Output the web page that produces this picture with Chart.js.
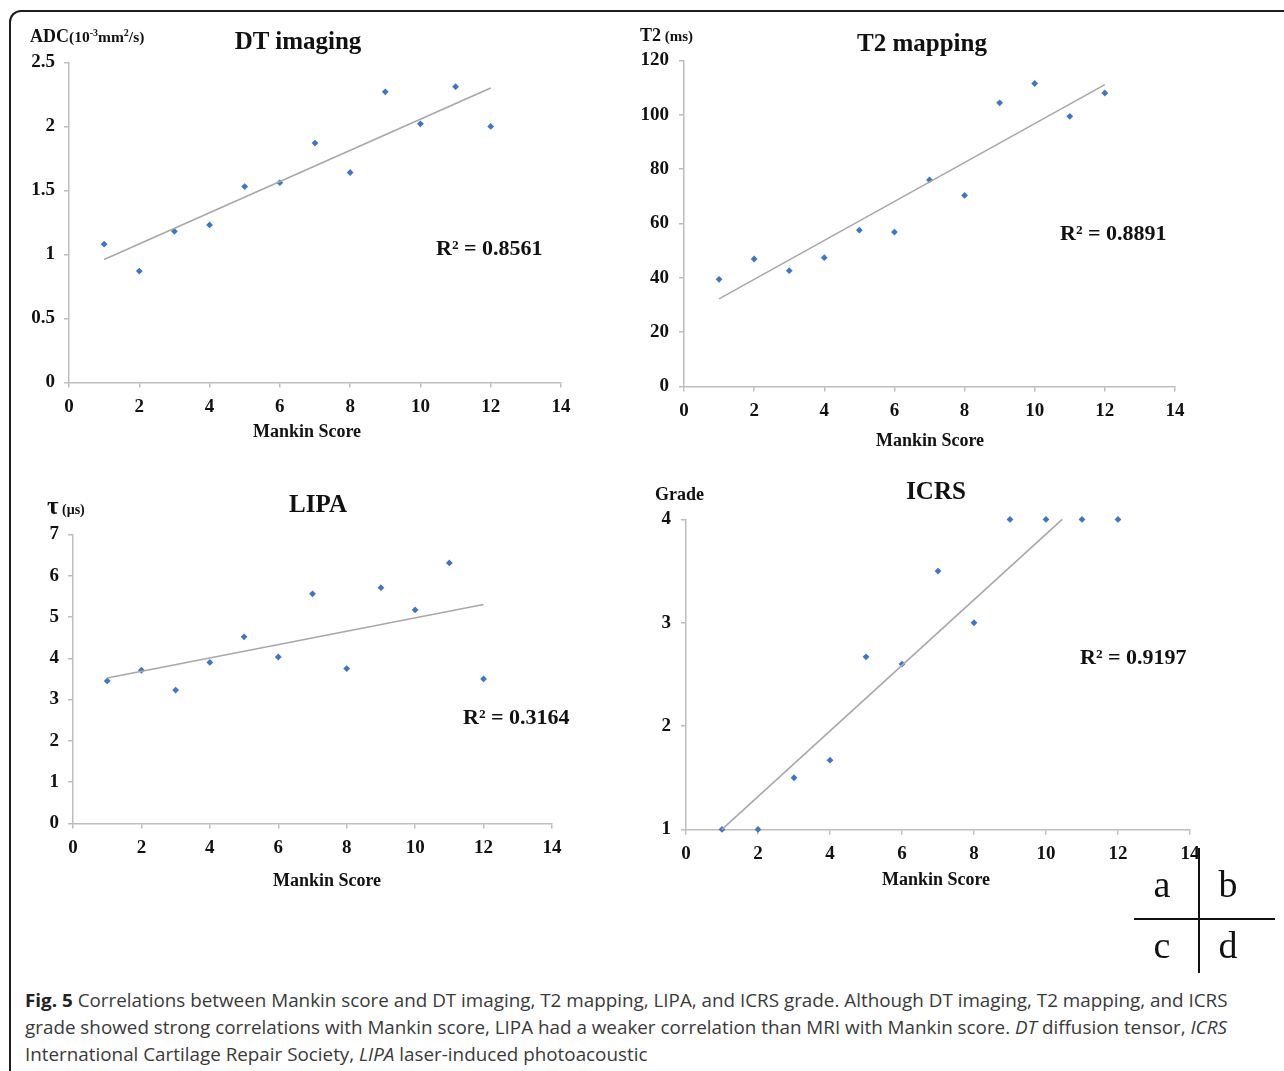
<!DOCTYPE html>
<html>
<head>
<meta charset="utf-8">
<script src="https://cdn.jsdelivr.net/npm/chart.js@4.4.1/dist/chart.umd.min.js"></script>
<style>
  html, body { margin:0; padding:0; background:#fff; width:1284px; height:1071px; overflow:hidden; }
  .frame { position:absolute; left:9px; top:10px; width:1300px; height:1100px; border-top:2px solid #1e1e1e; border-left:2px solid #1e1e1e; border-top-left-radius:12px; }
  .cv { position:absolute; }
  .t { position:absolute; font-family:"Liberation Serif","Times New Roman",serif; font-weight:bold; color:#111; white-space:nowrap; line-height:1; }
  .c { transform:translate(-50%,-50%); }
  .l { transform:translate(0,-50%); }
  .title { font-size:25px; }
  .xt { font-size:18px; }
  .r2 { font-size:22px; }
  .letter { position:absolute; font-family:"Liberation Serif","Times New Roman",serif; font-size:38px; color:#111; line-height:1; transform:translate(-50%,-50%); }
  .hl { position:absolute; background:#111; }
  .caption { position:absolute; left:25px; top:987px; font-family:"Open Sans",sans-serif; font-size:18px; line-height:27px; color:#3a3a3a; white-space:nowrap; transform-origin:0 0; }
  .caption b { font-weight:700; color:#222; }
</style>
</head>
<body>
<div class="frame"></div>

<canvas id="ca" class="cv"></canvas>
<canvas id="cb" class="cv"></canvas>
<canvas id="cc" class="cv"></canvas>
<canvas id="cd" class="cv"></canvas>

<!-- chart a texts -->
<div class="t l" style="left:30px; top:36px; font-size:18px;">ADC<span style="font-size:15.5px;">(10<sup style="font-size:10px;">-3</sup>mm<sup style="font-size:10px;">2</sup>/s)</span></div>
<div class="t c title" style="left:298px; top:40px;">DT imaging</div>
<div class="t l r2" style="left:436px; top:248px;">R² = 0.8561</div>
<div class="t c xt" style="left:307px; top:431px;">Mankin Score</div>

<!-- chart b texts -->
<div class="t l" style="left:640px; top:35px; font-size:18px;">T2<span style="font-size:15px;"> (ms)</span></div>
<div class="t c title" style="left:922px; top:42px;">T2 mapping</div>
<div class="t l r2" style="left:1060px; top:233px;">R² = 0.8891</div>
<div class="t c xt" style="left:930px; top:440px;">Mankin Score</div>

<!-- chart c texts -->
<div class="t l" style="left:47px; top:505px; font-size:25px;">τ<span style="font-size:14px;"> (μs)</span></div>
<div class="t c title" style="left:318px; top:503px;">LIPA</div>
<div class="t l r2" style="left:463px; top:717px;">R² = 0.3164</div>
<div class="t c xt" style="left:327px; top:880px;">Mankin Score</div>

<!-- chart d texts -->
<div class="t l" style="left:655px; top:494px; font-size:18px;">Grade</div>
<div class="t c title" style="left:936px; top:490px;">ICRS</div>
<div class="t l r2" style="left:1080px; top:657px;">R² = 0.9197</div>
<div class="t c xt" style="left:936px; top:879px;">Mankin Score</div>

<!-- panel key -->
<div class="hl" style="left:1198px; top:848px; width:2px; height:125px;"></div>
<div class="hl" style="left:1134px; top:918px; width:141px; height:2px;"></div>
<div class="letter" style="left:1162px; top:884px;">a</div>
<div class="letter" style="left:1228px; top:884px;">b</div>
<div class="letter" style="left:1162px; top:945px;">c</div>
<div class="letter" style="left:1228px; top:945px;">d</div>

<div class="caption" id="cap">
<div id="cap1"><b>Fig. 5</b> Correlations between Mankin score and DT imaging, T2 mapping, LIPA, and ICRS grade. Although DT imaging, T2 mapping, and ICRS</div>
<div>grade showed strong correlations with Mankin score, LIPA had a weaker correlation than MRI with Mankin score. <i>DT</i> diffusion tensor, <i>ICRS</i></div>
<div>International Cartilage Repair Society, <i>LIPA</i> laser-induced photoacoustic</div>
</div>

<script>
// ---- data ----
const mankinScores = [1, 2, 3, 4, 5, 6, 7, 8, 9, 10, 11, 12];
const adcValues  = [1.08, 0.87, 1.18, 1.23, 1.53, 1.56, 1.87, 1.64, 2.27, 2.02, 2.31, 2.00];
const t2Values   = [39.4, 46.9, 42.6, 47.4, 57.5, 56.8, 76.0, 70.3, 104.4, 111.5, 99.4, 108.0];
const tauValues  = [3.45, 3.71, 3.23, 3.90, 4.52, 4.03, 5.56, 3.75, 5.71, 5.17, 6.31, 3.50];
const icrsGrades = [1, 1, 1.5, 1.67, 2.67, 2.6, 3.5, 3, 4, 4, 4, 4];

// trendline endpoints (as drawn in the figure)
const adcTrendX  = [1, 12];    const adcTrendY  = [0.96, 2.30];
const t2TrendX   = [1, 12];    const t2TrendY   = [32.2, 111.1];
const tauTrendX  = [1, 12];    const tauTrendY  = [3.52, 5.30];
const icrsTrendX = [1, 10.45]; const icrsTrendY = [1.0, 4.0];

// tick labels
const xTickLabels    = [0, 2, 4, 6, 8, 10, 12, 14];
const adcTickLabels  = [0, 0.5, 1, 1.5, 2, 2.5];
const t2TickLabels   = [0, 20, 40, 60, 80, 100, 120];
const tauTickLabels  = [0, 1, 2, 3, 4, 5, 6, 7];
const icrsTickLabels = [1, 2, 3, 4];

const pts = (xs, ys) => xs.map((x, i) => ({ x: x, y: ys[i] }));

const axisColor = '#bdbdbd';
const tickFont = { family: '"Liberation Serif","Times New Roman",serif', weight: 'bold', size: 19 };

function makeChart(id, plot, yTicks, values, trendX, trendY, yAxisWidth, xAxisHeight, yPad) {
  const cv = document.getElementById(id);
  const w0 = (plot.R - plot.L) + yAxisWidth + 30;
  const h0 = (plot.B - plot.T) + xAxisHeight + 14;
  cv.width = w0; cv.height = h0;
  cv.style.width = w0 + 'px'; cv.style.height = h0 + 'px';
  const chart = new Chart(cv, {
    type: 'scatter',
    data: {
      datasets: [
        {
          type: 'line',
          data: pts(trendX, trendY),
          borderColor: '#a8a8a8',
          borderWidth: 1.6,
          pointRadius: 0,
          fill: false,
          tension: 0,
          clip: false
        },
        {
          data: pts(mankinScores, values),
          backgroundColor: '#3a77c8',
          borderColor: '#3a77c8',
          pointStyle: 'rectRot',
          pointRadius: 3.4,
          borderWidth: 0,
          clip: false
        }
      ]
    },
    options: {
      responsive: false,
      maintainAspectRatio: false,
      animation: false,
      layout: { padding: { top: 14, right: 30, left: 0, bottom: 0 } },
      plugins: { legend: { display: false }, tooltip: { enabled: false } },
      scales: {
        x: {
          type: 'linear',
          min: xTickLabels[0], max: xTickLabels[xTickLabels.length - 1],
          afterBuildTicks: s => { s.ticks = xTickLabels.map(v => ({ value: v })); },
          afterFit: s => { s.height = xAxisHeight; },
          grid: { drawOnChartArea: false, drawTicks: true, tickLength: 5, color: axisColor, lineWidth: 1.5 },
          border: { color: axisColor, width: 1.5 },
          ticks: { font: tickFont, color: '#111', padding: 8, maxRotation: 0, callback: v => String(v) }
        },
        y: {
          type: 'linear',
          min: yTicks[0], max: yTicks[yTicks.length - 1],
          afterBuildTicks: s => { s.ticks = yTicks.map(v => ({ value: v })); },
          afterFit: s => { s.width = yAxisWidth; },
          grid: { drawOnChartArea: false, drawTicks: true, tickLength: 5, color: axisColor, lineWidth: 1.5 },
          border: { color: axisColor, width: 1.5 },
          ticks: { font: tickFont, color: '#111', padding: yPad, callback: v => String(v) }
        }
      }
    }
  });
  // size the canvas so the plot area lands on the target rectangle
  let ca = chart.chartArea;
  const w1 = w0 + (plot.R - plot.L) - (ca.right - ca.left);
  const h1 = h0 + (plot.B - plot.T) - (ca.bottom - ca.top);
  chart.resize(w1, h1);
  ca = chart.chartArea;
  cv.style.left = (plot.L - ca.left) + 'px';
  cv.style.top = (plot.T - ca.top) + 'px';
  return chart;
}

makeChart('ca', { L: 69, R: 561, T: 62, B: 382 }, adcTickLabels, adcValues, adcTrendX, adcTrendY, 59, 55, 9);
makeChart('cb', { L: 684, R: 1175, T: 60, B: 386 }, t2TickLabels, t2Values, t2TrendX, t2TrendY, 64, 57, 10);
makeChart('cc', { L: 73, R: 552, T: 534, B: 823 }, tauTickLabels, tauValues, tauTrendX, tauTrendY, 63, 57, 9);
makeChart('cd', { L: 686, R: 1190, T: 519, B: 829 }, icrsTickLabels, icrsGrades, icrsTrendX, icrsTrendY, 66, 56, 10);

// fit caption width to the figure's text block
const cap = document.getElementById('cap');
const line1 = document.getElementById('cap1');
const w = line1.scrollWidth;
const sx = 1203 / w;
cap.style.transform = 'scaleX(' + sx.toFixed(4) + ')';
</script>
</body>
</html>
